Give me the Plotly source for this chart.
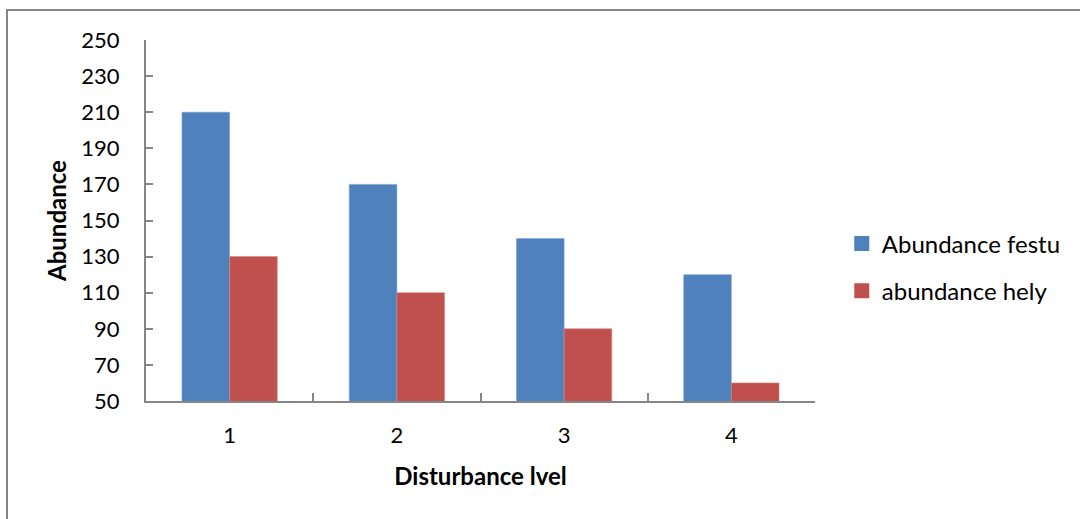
import plotly.graph_objects as go

levels = ["1", "2", "3", "4"]
festu = [210, 170, 140, 120]
hely = [130, 110, 90, 60]
y_ticks = [50, 70, 90, 110, 130, 150, 170, 190, 210, 230, 250]

FONT = "Lato, Carlito, Calibri, sans-serif"
AXIS_GREY = "#868686"
BLUE = "#4F81BD"
RED = "#C0504D"

fig = go.Figure()
fig.add_trace(go.Bar(x=levels, y=festu, name="Abundance festu", showlegend=False,
                     marker=dict(color=BLUE, line=dict(color="#7FA3D0", width=0.6))))
fig.add_trace(go.Bar(x=levels, y=hely, name="abundance hely", showlegend=False,
                     marker=dict(color=RED, line=dict(color="#D48583", width=0.6))))

# legend entries with larger square keys
for name, col, grp in [("Abundance festu", BLUE, "a"), ("abundance hely", RED, "b")]:
    fig.add_trace(go.Scatter(x=[None], y=[None], mode="markers", name=name,
                             legendgroup=grp,
                             marker=dict(symbol="square", size=15, color=col)))

fig.update_layout(
    width=1080, height=519,
    margin=dict(l=146, r=265, t=40, b=118),
    paper_bgcolor="white", plot_bgcolor="white",
    barmode="group", bargap=0.43, bargroupgap=0,
    font=dict(family=FONT, color="black"),
    showlegend=True,
    legend=dict(x=1.04, y=0.37, xanchor="left", yanchor="middle",
                font=dict(size=24, family=FONT), traceorder="grouped",
                tracegroupgap=13, bgcolor="rgba(0,0,0,0)", itemwidth=30),
    xaxis=dict(type="category", tickson="boundaries", ticks="inside", ticklen=8,
               tickcolor=AXIS_GREY, tickwidth=1.5,
               showline=True, linecolor=AXIS_GREY, linewidth=2,
               showgrid=False, tickfont=dict(size=22), ticklabelstandoff=14,
               title=dict(text="<b>Disturbance lvel</b>", font=dict(size=24), standoff=21)),
    yaxis=dict(range=[50, 250], tickvals=y_ticks, ticks="inside", ticklen=7,
               tickcolor=AXIS_GREY, tickwidth=1.5,
               showline=True, linecolor=AXIS_GREY, linewidth=2,
               showgrid=False, zeroline=False, tickfont=dict(size=22), ticklabelstandoff=20,
               title=dict(text="<b>Abundance</b>", font=dict(size=24), standoff=8)),
)

# chart frame
fig.add_shape(type="rect", xref="paper", yref="paper",
              x0=(7 - 146) / 669, x1=(1090 - 146) / 669,
              y0=(401 - 530) / 361, y1=(401 - 10) / 361,
              line=dict(color=AXIS_GREY, width=2), fillcolor="rgba(0,0,0,0)", layer="below")

fig.write_html("out.html")
